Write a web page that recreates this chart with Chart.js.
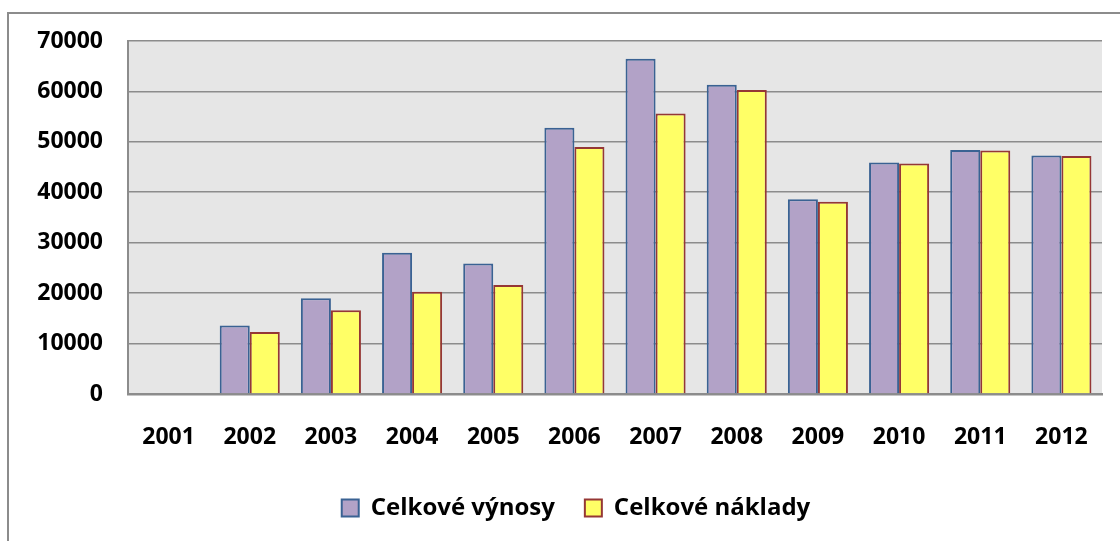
<!DOCTYPE html>
<html>
<head>
<meta charset="utf-8">
<title>Celkové výnosy a náklady 2001–2012</title>
<script src="https://cdn.jsdelivr.net/npm/chart.js@4/dist/chart.umd.min.js"></script>
<style>
  html, body { margin: 0; padding: 0; background: #ffffff; overflow: hidden; }
  #wrap { width: 1120px; height: 541px; position: relative; }
</style>
</head>
<body>
<div id="wrap"><canvas id="chart" width="1120" height="541"></canvas></div>
<script>
// Years on the category axis
const years = ['2001', '2002', '2003', '2004', '2005', '2006', '2007', '2008', '2009', '2010', '2011', '2012'];
// Total revenues per year
const vynosy = [0, 13600, 19000, 28000, 25900, 52800, 66500, 61300, 38600, 45900, 48400, 47300];
// Total costs per year
const naklady = [150, 12300, 16600, 20300, 21600, 49000, 55600, 60300, 38100, 45700, 48300, 47200];
// Value axis ticks
const yTicks = [0, 10000, 20000, 30000, 40000, 50000, 60000, 70000];

const FONT = "'Open Sans', 'DejaVu Sans', sans-serif";
const GRID = '#8c8c8c';

// Grey plot background and the frame line around the whole chart
const framePlugin = {
  id: 'frame',
  beforeDraw(chart) {
    const { ctx, chartArea: a } = chart;
    ctx.save();
    ctx.fillStyle = '#e6e6e6';
    ctx.fillRect(a.left, a.top, a.right - a.left, a.bottom - a.top);
    ctx.strokeStyle = '#8c8c8c';
    ctx.lineWidth = 2;
    ctx.beginPath();
    ctx.moveTo(8, chart.height + 10);
    ctx.lineTo(8, 13);
    ctx.lineTo(chart.width + 10, 13);
    ctx.stroke();
    ctx.restore();
  }
};

// Move the legend row a little to the right of the canvas centre
const legendShift = {
  id: 'legendShift',
  afterLayout(chart) {
    const lg = chart.legend;
    if (lg) { lg.left += 25; lg.right += 25; }
  }
};

new Chart(document.getElementById('chart'), {
  type: 'bar',
  data: {
    labels: years,
    datasets: [
      {
        label: 'Celkové výnosy',
        data: vynosy,
        backgroundColor: '#b2a2c7',
        borderColor: '#3a6293',
        borderWidth: 2,
        categoryPercentage: 0.74,
        barPercentage: 1.0
      },
      {
        label: 'Celkové náklady',
        data: naklady,
        backgroundColor: '#ffff66',
        borderColor: '#953735',
        borderWidth: 2,
        categoryPercentage: 0.74,
        barPercentage: 1.0
      }
    ]
  },
  options: {
    responsive: false,
    animation: false,
    layout: { padding: { left: 0, right: 18, top: 41, bottom: 11 } },
    plugins: {
      tooltip: { enabled: false },
      legend: {
        position: 'bottom',
        labels: {
          boxWidth: 17,
          boxHeight: 17,
          padding: 30,
          color: '#000000',
          font: { family: FONT, size: 24, weight: 'bold' }
        }
      }
    },
    scales: {
      x: {
        grid: { display: false, drawTicks: false },
        border: { display: true, color: GRID, width: 2.5 },
        ticks: {
          color: '#000000',
          padding: 30,
          font: { family: FONT, size: 23, weight: 'bold' }
        },
        afterFit(scale) { scale.height = 72; }
      },
      y: {
        min: 0,
        max: 70000,
        afterBuildTicks(scale) { scale.ticks = yTicks.map(v => ({ value: v })); },
        grid: { color: GRID, lineWidth: 1.6, drawTicks: false },
        border: { display: true, color: GRID, width: 2 },
        ticks: {
          color: '#000000',
          padding: 25,
          font: { family: FONT, size: 23, weight: 'bold' },
          callback: v => String(v)
        },
        afterFit(scale) { scale.width = 128; }
      }
    }
  },
  plugins: [framePlugin, legendShift]
});
</script>
</body>
</html>
